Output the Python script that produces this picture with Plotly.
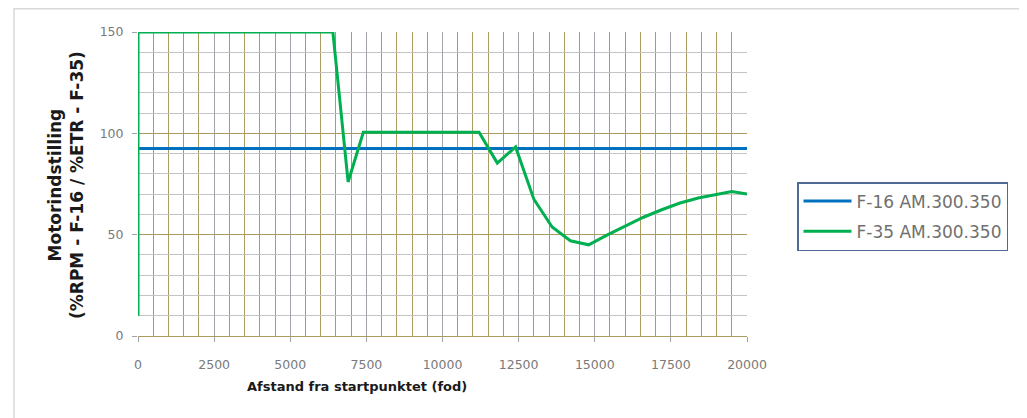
import plotly.graph_objects as go

# F-16 data (constant)
f16_x = [0, 20000]
f16_y = [92.5, 92.5]

# F-35 data
f35_x = [0, 0, 6400, 6900, 7400, 11200, 11800, 12400, 13000, 13600, 14200, 14800,
         15400, 16000, 16600, 17200, 17800, 18400, 19000, 19500, 20000]
f35_y = [10, 150, 150, 76, 100.5, 100.5, 85.3, 93.3, 67.5, 53.8, 47, 45,
         49.8, 54.3, 58.6, 62.3, 65.6, 68.1, 69.9, 71.3, 70.0]

x_ticks = [0, 2500, 5000, 7500, 10000, 12500, 15000, 17500, 20000]
y_ticks = [0, 50, 100, 150]

OLIVE = "#a99b62"
VGRAY = "#a2a2aa"
HGRAY = "#c4c4c4"
TICK_COLOR = "#7a7a7a"

# plot area in figure pixels
L, R, T, B = 130, 739, 24, 328
W, H = 1027, 418


def px(x):
    return (x - L) / (R - L)


def py(y):
    return (B - y) / (B - T)


fig = go.Figure()
fig.add_trace(go.Scatter(x=f16_x, y=f16_y, mode="lines", name="F-16 AM.300.350",
                         line=dict(color="#0070c0", width=3), legendgroup="a"))
fig.add_trace(go.Scatter(x=f35_x, y=f35_y, mode="lines", name="F-35 AM.300.350",
                         line=dict(color="#00b050", width=3), legendgroup="b"))

fig.update_layout(
    width=W, height=H,
    margin=dict(l=L, r=W - R, t=T, b=H - B),
    paper_bgcolor="white", plot_bgcolor="white",
    font=dict(family="DejaVu Sans", size=12, color="#666666"),
    showlegend=True,
    legend=dict(x=px(789), y=py(174), xanchor="left", yanchor="top",
                bordercolor="#4f6b95", borderwidth=1.5,
                font=dict(size=17, color="#707070"),
                itemwidth=48,
                traceorder="grouped", tracegroupgap=5),
    xaxis=dict(range=[0, 20000], tickvals=x_ticks, ticktext=[str(v) for v in x_ticks],
               showgrid=True, gridcolor=VGRAY, gridwidth=1,
               minor=dict(dtick=500, tick0=0, showgrid=True, gridcolor=OLIVE, gridwidth=1),
               showline=True, linecolor=OLIVE, linewidth=1,
               ticks="outside", ticklen=5, tickcolor=VGRAY, ticklabelstandoff=12,
               zeroline=False, tickfont=dict(size=12.5, color=TICK_COLOR)),
    yaxis=dict(range=[0, 150], tickvals=y_ticks, ticktext=[str(v) for v in y_ticks],
               showgrid=True, gridcolor=OLIVE, gridwidth=1,
               minor=dict(dtick=10, tick0=0, showgrid=True, gridcolor=HGRAY, gridwidth=1),
               showline=False, ticks="outside", ticklen=5, tickcolor=VGRAY,
               ticklabelstandoff=6,
               zeroline=False, tickfont=dict(size=12.5, color=TICK_COLOR)),
    annotations=[
        dict(text="Afstand fra startpunktet (fod)", xref="paper", yref="paper",
             x=px(349), y=py(379), xanchor="center", yanchor="middle", showarrow=False,
             font=dict(family="DejaVu Sans", size=13, color="#1a1a1a", weight="bold")),
        dict(text="Motorindstilling<br>(%RPM - F-16 / %ETR - F-35)", xref="paper", yref="paper",
             x=px(58), y=py(177), xanchor="center", yanchor="middle", showarrow=False,
             textangle=-90,
             font=dict(family="DejaVu Sans", size=17, color="#1a1a1a", weight="bold")),
    ],
    shapes=[dict(type="rect", xref="paper", yref="paper",
                 x0=px(6), x1=px(1017), y0=py(440), y1=py(0.75),
                 line=dict(color="#d9d9d9", width=1.5), layer="below")],
)

fig.write_html("out.html")
